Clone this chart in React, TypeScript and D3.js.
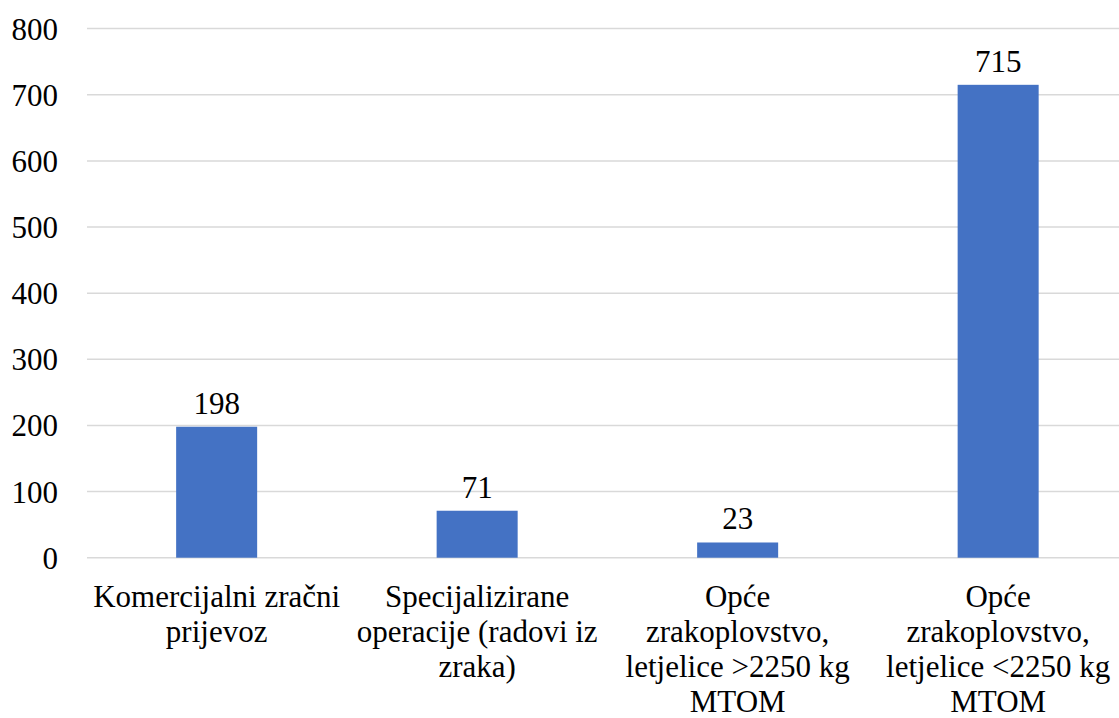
import React from "react";
import * as d3 from "d3";

const categories: string[] = [
  "Komercijalni zračni\nprijevoz",
  "Specijalizirane\noperacije (radovi iz\nzraka)",
  "Opće\nzrakoplovstvo,\nletjelice >2250 kg\nMTOM",
  "Opće\nzrakoplovstvo,\nletjelice <2250 kg\nMTOM",
];
const values: number[] = [198, 71, 23, 715];
const yTicks: number[] = [0, 100, 200, 300, 400, 500, 600, 700, 800];

const W = 1119;
const H = 718;
const FONT = "Liberation Serif";

export default function App() {
  const x = d3
    .scaleBand<string>()
    .domain(categories)
    .range([86.4, 86.4 + 4 * 260.5])
    .paddingInner(0.689)
    .paddingOuter(0.3445);
  const y = d3.scaleLinear().domain([0, 800]).range([557.7, 28.6]);

  return (
    <div style={{ fontFamily: FONT }}>
      <svg
        width={W}
        height={H}
        style={{ position: "absolute", left: 0, top: 0, background: "#fff", fontFamily: FONT }}
      >
        <rect x={0} y={0} width={W} height={H} fill="#fff" />
        {yTicks.map((t) => (
          <g key={t}>
            <line x1={87} x2={W} y1={y(t)} y2={y(t)} stroke="#d9d9d9" strokeWidth={1.5} />
            <text x={58} y={y(t) + 11} textAnchor="end" fontFamily={FONT} fontSize={31} fill="#000">
              {t}
            </text>
          </g>
        ))}
        {categories.map((c, i) => {
          const bx = x(c)!;
          const bw = x.bandwidth();
          const cx = bx + bw / 2;
          return (
            <g key={c}>
              <rect x={bx} y={y(values[i])} width={bw} height={y(0) - y(values[i])} fill="#4472C4" />
              <text x={cx} y={y(values[i]) - 13} textAnchor="middle" fontFamily={FONT} fontSize={31} fill="#000">
                {values[i]}
              </text>
              <text textAnchor="middle" fontFamily={FONT} fontSize={31} fill="#000">
                {c.split("\n").map((ln, j) => (
                  <tspan key={j} x={cx} y={607 + j * 35}>
                    {ln}
                  </tspan>
                ))}
              </text>
            </g>
          );
        })}
      </svg>
    </div>
  );
}
